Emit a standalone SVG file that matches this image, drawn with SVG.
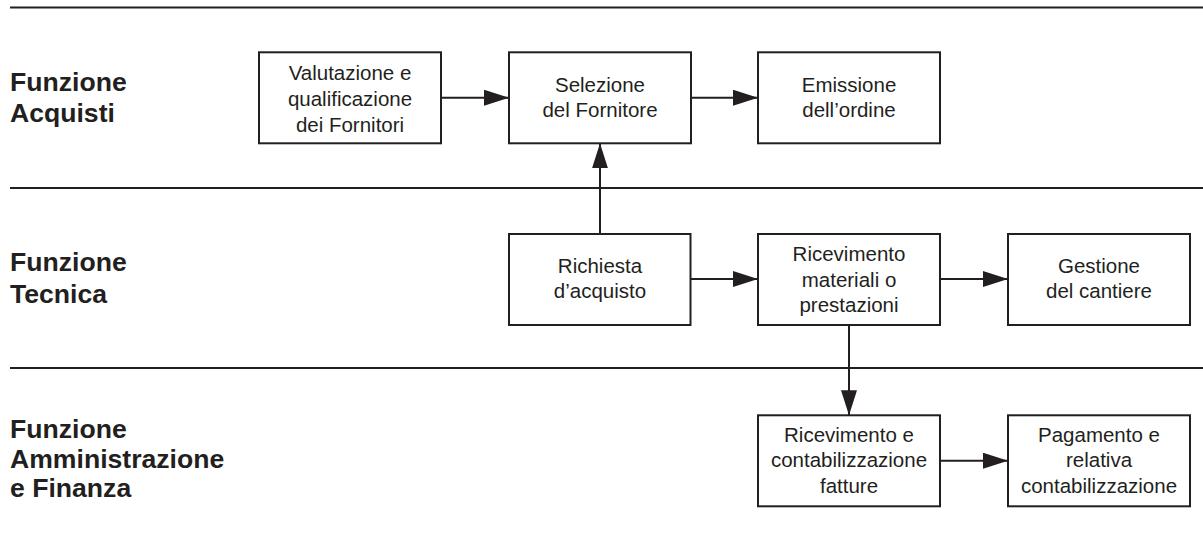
<svg xmlns="http://www.w3.org/2000/svg" width="1203" height="547" viewBox="0 0 1203 547">
<defs>
<style>
.lane{stroke:#231f20;stroke-width:2;fill:none}
.box{fill:#fff;stroke:#231f20;stroke-width:2}
.lbl{font-family:"Liberation Sans",Arial,sans-serif;font-weight:bold;font-size:26.6px;fill:#231f20}
.txt{font-family:"Liberation Sans",Arial,sans-serif;font-size:20.5px;fill:#231f20;text-anchor:middle}
.con{stroke:#231f20;stroke-width:2;fill:none;marker-end:url(#ah)}
</style>
<marker id="ah" markerUnits="userSpaceOnUse" markerWidth="25" markerHeight="16" refX="25" refY="8" orient="auto" viewBox="0 0 25 16">
<path d="M0,0 L25,8 L0,16 z" fill="#231f20"/>
</marker>
</defs>
<rect width="1203" height="547" fill="#fff"/>
<g id="lanes">
<line class="lane" x1="10" y1="7.5" x2="1203" y2="7.5"/>
<line class="lane" x1="10" y1="188" x2="1203" y2="188"/>
<line class="lane" x1="10" y1="368" x2="1203" y2="368"/>
<text class="lbl" x="10" y="90.7">Funzione<tspan x="10" y="121.7">Acquisti</tspan></text>
<text class="lbl" x="10" y="270.7">Funzione<tspan x="10" y="303">Tecnica</tspan></text>
<text class="lbl" x="10" y="438">Funzione<tspan x="10" y="467.5">Amministrazione</tspan><tspan x="10" y="497">e Finanza</tspan></text>
</g>
<g id="connectors">
<line class="con" x1="441" y1="97.7" x2="509" y2="97.7"/>
<line class="con" x1="691" y1="97.7" x2="758" y2="97.7"/>
<line class="con" x1="600" y1="234" x2="600" y2="143.3"/>
<line class="con" x1="690" y1="279" x2="758" y2="279"/>
<line class="con" x1="940" y1="279" x2="1008" y2="279"/>
<line class="con" x1="849" y1="325" x2="849" y2="415.3"/>
<line class="con" x1="940" y1="460.7" x2="1008" y2="460.7"/>
</g>
<g id="n-valutazione">
<rect class="box" x="259" y="52.3" width="182" height="91"/>
<text class="txt" x="350" y="80">Valutazione e<tspan x="350" y="106">qualificazione</tspan><tspan x="350" y="131.7">dei Fornitori</tspan></text>
</g>
<g id="n-selezione">
<rect class="box" x="509" y="52.3" width="182" height="91"/>
<text class="txt" x="600" y="91.7">Selezione<tspan x="600" y="117.3">del Fornitore</tspan></text>
</g>
<g id="n-emissione">
<rect class="box" x="758" y="52.3" width="182" height="91"/>
<text class="txt" x="849" y="91.7">Emissione<tspan x="849" y="117.3">dell’ordine</tspan></text>
</g>
<g id="n-richiesta">
<rect class="box" x="509" y="234" width="181.5" height="91"/>
<text class="txt" x="600" y="272.7">Richiesta<tspan x="600" y="298.3">d’acquisto</tspan></text>
</g>
<g id="n-ricevimento-materiali">
<rect class="box" x="758" y="234" width="182" height="91"/>
<text class="txt" x="849" y="261">Ricevimento<tspan x="849" y="286.5">materiali o</tspan><tspan x="849" y="311.5">prestazioni</tspan></text>
</g>
<g id="n-gestione">
<rect class="box" x="1008" y="234" width="182" height="91"/>
<text class="txt" x="1099" y="272.7">Gestione<tspan x="1099" y="298.3">del cantiere</tspan></text>
</g>
<g id="n-ricevimento-fatture">
<rect class="box" x="758" y="415.3" width="182" height="91"/>
<text class="txt" x="849" y="441.7">Ricevimento e<tspan x="849" y="467.3">contabilizzazione</tspan><tspan x="849" y="492.5">fatture</tspan></text>
</g>
<g id="n-pagamento">
<rect class="box" x="1008" y="415.3" width="182" height="91"/>
<text class="txt" x="1099" y="441.7">Pagamento e<tspan x="1099" y="467.3">relativa</tspan><tspan x="1099" y="492.5">contabilizzazione</tspan></text>
</g>
</svg>
